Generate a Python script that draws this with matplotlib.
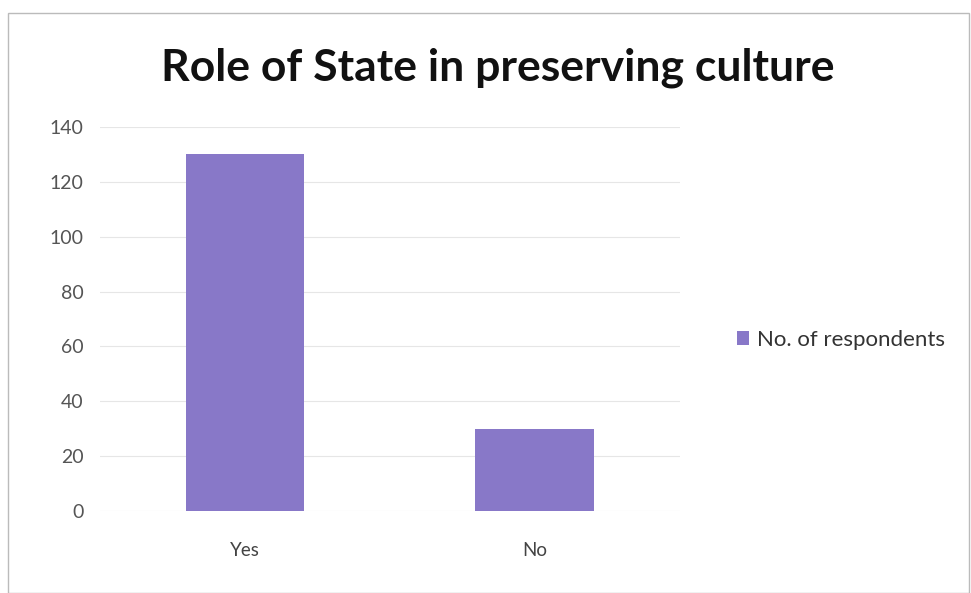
import matplotlib
matplotlib.use("Agg")
import matplotlib.pyplot as plt
from matplotlib.patches import Rectangle

# data
categories = ["Yes", "No"]
respondents = [130, 30]
series_name = "No. of respondents"
yticks = [0, 20, 40, 60, 80, 100, 120, 140]

bar_color = "#8878c8"

plt.rcParams["font.family"] = ["Lato", "DejaVu Sans"]

fig = plt.figure(figsize=(9.71, 5.93), dpi=100)
ax = fig.add_axes([0.103, 0.138, 0.597, 0.648])

x = range(len(categories))
ax.bar(x, respondents, width=0.41, color=bar_color, label=series_name, zorder=3)

ax.set_xlim(-0.5, 1.5)
ax.set_ylim(0, 140)
ax.set_yticks(yticks)
ax.set_xticks(list(x))
ax.set_xticklabels(categories)
ax.grid(axis="y", color="#e6e6e6", linewidth=0.8, zorder=0)
for s in ax.spines.values():
    s.set_visible(False)
ax.tick_params(axis="y", length=0, pad=12, labelsize=14, labelcolor="#555555")
ax.tick_params(axis="x", length=0, pad=22, labelsize=13.5, labelcolor="#444444")

fig.text(0.513, 1 - 80 / 593, "Role of State in preserving culture",
         ha="center", va="baseline", fontsize=32, fontweight="bold", color="#111111")

fig.legend(loc="center left", bbox_to_anchor=(0.738, 0.427), frameon=False,
           fontsize=16, handlelength=0.55, handleheight=0.55, handletextpad=0.35,
           labelcolor="#333333")

# thin frame of the chart area
fig.patches.append(Rectangle((0.008, 0.0), 0.99, 0.978, transform=fig.transFigure,
                             fill=False, edgecolor="#bbbbbb", linewidth=1))

fig.savefig("out.png", dpi=100)
